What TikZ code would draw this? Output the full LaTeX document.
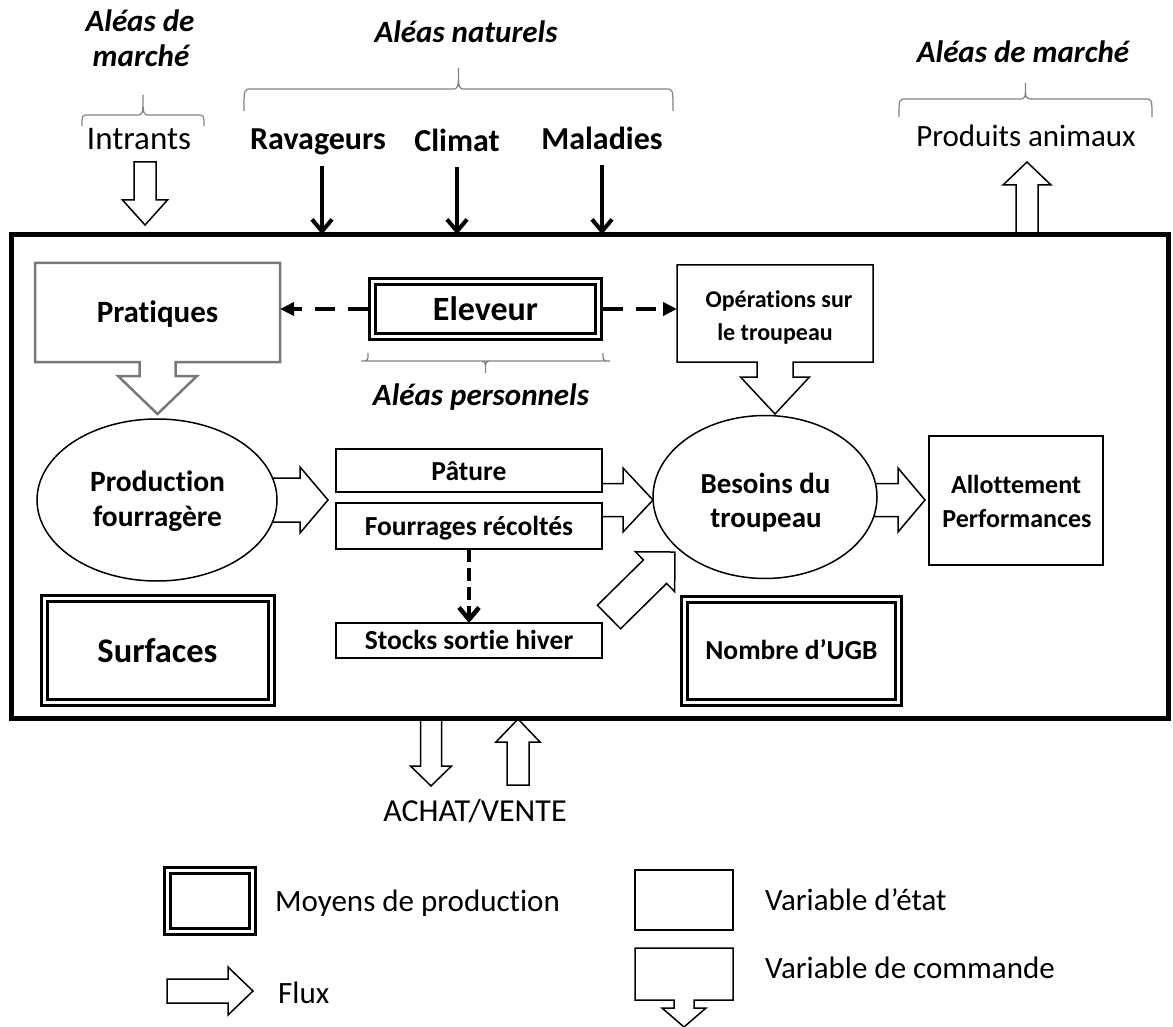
\documentclass[tikz,border=0pt]{standalone}
\usepackage{fontspec}
\setmainfont{Carlito}[Ligatures={NoCommon}]
\usetikzlibrary{arrows.meta,calc,shapes.geometric}
\definecolor{pgray}{RGB}{120,120,120}
\definecolor{bgray}{RGB}{130,130,130}

% hollow block arrow: #1 tail closing, #2 start, #3 end, #4 shaft half width, #5 head half width, #6 head length
\newcommand\flowarrow[6]{%
  \path (#2); \pgfgetlastxy{\faXa}{\faYa}%
  \path (#3); \pgfgetlastxy{\faXb}{\faYb}%
  \pgfmathsetmacro\faAng{atan2((\faYb)-(\faYa),(\faXb)-(\faXa))}%
  \pgfmathsetmacro\faLen{veclen((\faXb)-(\faXa),(\faYb)-(\faYa))}%
  \pgfmathsetmacro\faBase{\faLen-#6}%
  \fill[white,shift={(#2)},rotate=\faAng] (0,-#4) -- (\faBase,-#4) -- (\faBase,-#5) -- (\faLen,0) -- (\faBase,#5) -- (\faBase,#4) -- (0,#4) -- cycle;
  \draw[flow,shift={(#2)},rotate=\faAng] (0,-#4) -- (\faBase,-#4) -- (\faBase,-#5) -- (\faLen,0) -- (\faBase,#5) -- (\faBase,#4) -- (0,#4) #1;}

% box with arrow below: #1 style, #2 node, #3 shaft half, #4 head half, #5 head top offset, #6 tip offset
\newcommand\callout[6]{%
  \draw[#1] (#2.north west) -- (#2.north east) -- (#2.south east)
    -- ($(#2.south)+(#3,0)$) -- ($(#2.south)+(#3,#5)$) -- ($(#2.south)+(#4,#5)$)
    -- ($(#2.south)+(0,#6)$) -- ($(#2.south)+(-#4,#5)$) -- ($(#2.south)+(-#3,#5)$)
    -- ($(#2.south)+(-#3,0)$) -- (#2.south west) -- cycle;}

% horizontal curly brace: #1 x1, #2 x2, #3 y ends, #4 y line, #5 y tip
\newcommand\hbrace[5]{%
  \draw[brc] (#1,#3) .. controls (#1,#4) .. ({#1+7},#4) -- ({(#1+#2)/2-7},#4)
    .. controls ({(#1+#2)/2},#4) .. ({(#1+#2)/2},#5)
    .. controls ({(#1+#2)/2},#4) .. ({(#1+#2)/2+7},#4) -- ({#2-7},#4)
    .. controls (#2,#4) .. (#2,#3);}

\begin{document}
\begin{tikzpicture}[x=1pt,y=-1pt,
  txt/.style={font=\fontsize{#1}{#1}\selectfont, anchor=base, inner sep=0pt, outer sep=0pt},
  btxt/.style={font=\bfseries\fontsize{#1}{#1}\selectfont, anchor=base, inner sep=0pt, outer sep=0pt},
  alea/.style={font=\bfseries\itshape\fontsize{31}{31}\selectfont, anchor=base, inner sep=0pt},
  lgtxt/.style={font=\fontsize{31}{31}\selectfont, anchor=base west, inner sep=0pt},
  hold/.style={draw=none, inner sep=0pt, outer sep=0pt},
  boxst/.style={draw, line width=1.5pt, fill=white, inner sep=0pt, outer sep=0pt},
  mpbox/.style={draw, line width=3pt, double=white, double distance=3pt, inner sep=0pt, outer sep=4.5pt},
  ell/.style={ellipse, draw, line width=1.5pt, fill=white, inner sep=0pt},
  flow/.style={line width=1.5pt, line join=miter},
  calloutG/.style={draw=pgray, line width=2.5pt, line join=miter},
  calloutK/.style={draw, line width=1.5pt, line join=miter},
  brc/.style={draw=bgray, line width=1.2pt},
  blk/.style={line width=4pt, -{Straight Barb[length=12pt,width=20pt]}},
  dsh/.style={line width=4pt, dash pattern=on 20pt off 13pt, -{Triangle[length=14pt,width=13pt]}},
  dshv/.style={line width=4.5pt, dash pattern=on 13pt off 6pt, -{Straight Barb[length=12pt,width=20pt]}}
]
\useasboundingbox (0,0) rectangle (1173,1027);

% system frame (drawn at the end)
\node[hold, minimum width=1157pt, minimum height=484pt] (sys) at (589.5,476.5) {};

% ---------- top labels ----------
\node[alea] (amL1) at (140,32) {Aléas de};
\node[alea] (amL2) at (141,67) {marché};
\node[alea] (anat) at (466,43) {Aléas naturels};
\node[alea] (amR) at (1023,63) {Aléas de marché};

\hbrace{82}{204}{126}{115}{95}
\hbrace{244}{673}{111}{89}{68}
\hbrace{899}{1152}{117}{99}{83}

\node[txt=33] (intr) at (139,150) {Intrants};
\node[btxt=32] (rav) at (318,150) {Ravageurs};
\node[btxt=32] (cli) at (457,152) {Climat};
\node[btxt=32] (mal) at (602,150) {Maladies};
\node[txt=31] (prod) at (1026,147) {Produits animaux};

\coordinate (ravT) at (322,166);
\coordinate (cliT) at (457,167);
\coordinate (malT) at (602,165);
\draw[blk] (ravT) -- (ravT |- sys.north);
\draw[blk] (cliT) -- (cliT |- sys.north);
\draw[blk] (malT) -- (malT |- sys.north);

\coordinate (inA) at (145,162);
\coordinate (inB) at (145,225);
\flowarrow{-- cycle}{inA}{inB}{11}{22.5}{25}
\coordinate (paA) at (1027,234);
\coordinate (paB) at (1027,162);
\flowarrow{-- cycle}{paA}{paB}{11}{24}{23}

% ---------- control row ----------
\node[hold, minimum width=245pt, minimum height=99pt] (prat) at (157.5,312.5) {};
\callout{calloutG}{prat}{18}{39.5}{14}{52}
\node[btxt=31] (pratT) at (157.5,322) {Pratiques};

\node[mpbox, minimum width=226pt, minimum height=55pt] (elev) at (485.5,309) {};
\node[btxt=34] (elevT) at (485.5,320) {Eleveur};
\hbrace{603}{368}{353}{361}{373}
\node[alea] (aper) at (481,405) {Aléas personnels};

\node[hold, minimum width=196pt, minimum height=97pt] (ops) at (775,313.5) {};
\callout{calloutK}{ops}{18}{34.5}{15}{52}
\node[btxt=24] (opsT1) at (779,307) {Opérations sur};
\node[btxt=24] (opsT2) at (775,340) {le troupeau};

\draw[dsh] (elev.west) -- (elev.west -| prat.east);
\draw[dsh] (elev.east) -- (elev.east -| ops.west);

% ---------- flows in the middle ----------
\coordinate (pfA) at (262,500);
\coordinate (pfB) at (328,500);
\flowarrow{-- cycle}{pfA}{pfB}{22}{33}{28}
\coordinate (fbA) at (602,500);
\coordinate (fbB) at (653,500);
\flowarrow{}{fbA}{fbB}{16.5}{32}{30}
\coordinate (baA) at (850,500);
\coordinate (baB) at (925,500);
\flowarrow{-- cycle}{baA}{baB}{16.5}{32}{27}
\coordinate (sbA) at (609,617);
\coordinate (sbB) at (675,552);
\flowarrow{-- cycle}{sbA}{sbB}{16.5}{28}{28}

\node[ell, minimum width=240pt, minimum height=162pt] (prodE) at (157,500) {};
\node[btxt=29.5] (prodT1) at (157.5,491) {Production};
\node[btxt=29.5] (prodT2) at (157.5,526) {fourragère};

\node[ell, minimum width=224pt, minimum height=163pt] (besE) at (765,497) {};
\node[btxt=29] (besT1) at (765.5,493) {Besoins du};
\node[btxt=29] (besT2) at (766,527) {troupeau};

\node[boxst, minimum width=266pt, minimum height=43pt] (pat) at (469,470.5) {};
\node[btxt=27.5] (patT) at (469,480) {Pâture};
\node[boxst, minimum width=266pt, minimum height=46pt] (four) at (469,526) {};
\node[btxt=27.5] (fourT) at (469,535) {Fourrages récoltés};
\node[boxst, minimum width=266pt, minimum height=35pt] (stk) at (469,640.5) {};
\node[btxt=27.5] (stkT) at (469,649) {Stocks sortie hiver};
\draw[dshv] (four.south) -- (stk.north);

\node[boxst, minimum width=174pt, minimum height=129pt] (allo) at (1016,500.5) {};
\node[btxt=26] (alloT1) at (1016,493) {Allottement};
\node[btxt=26] (alloT2) at (1017,527) {Performances};

\node[mpbox, minimum width=227pt, minimum height=104pt] (surf) at (158,650.5) {};
\node[btxt=34.5] (surfT) at (157.5,662) {Surfaces};
\node[mpbox, minimum width=214pt, minimum height=103pt] (ugb) at (791.5,651) {};
\node[btxt=27.5] (ugbT) at (791.5,659) {Nombre d’UGB};

% ---------- purchase / sale ----------
\coordinate (avA) at (431,719);
\coordinate (avB) at (431,786);
\flowarrow{-- cycle}{avA}{avB}{10.5}{20.5}{20}
\coordinate (avC) at (518,785);
\coordinate (avD) at (518,719);
\flowarrow{-- cycle}{avC}{avD}{11}{22}{23}
\node[txt=32] (achat) at (475,821) {ACHAT/VENTE};

% system frame
\draw[line width=5pt] (sys.north west) rectangle (sys.south east);

% ---------- legend ----------
\node[mpbox, minimum width=85pt, minimum height=61pt] (lgmp) at (210,901) {};
\node[lgtxt] (lgmpT) at (275,911) {Moyens de production};
\coordinate (fxA) at (167,991);
\coordinate (fxB) at (253,991);
\flowarrow{-- cycle}{fxA}{fxB}{12}{24}{25}
\node[lgtxt] (lgfxT) at (278,1003) {Flux};
\node[boxst, minimum width=98pt, minimum height=60pt] (lget) at (684,900) {};
\node[lgtxt] (lgetT) at (765,910) {Variable d’état};
\node[hold, minimum width=98pt, minimum height=52pt] (lgcm) at (684,974) {};
\callout{calloutK}{lgcm}{10}{22}{8}{27}
\node[lgtxt] (lgcmT) at (765,978) {Variable de commande};
\end{tikzpicture}
\end{document}
